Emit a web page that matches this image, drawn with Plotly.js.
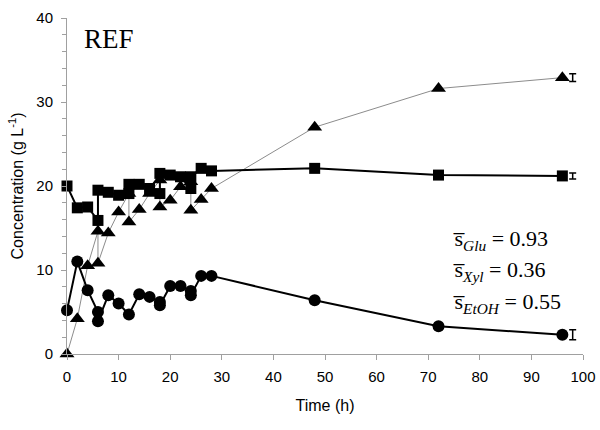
<!DOCTYPE html>
<html>
<head>
<meta charset="utf-8">
<script src="https://cdn.plot.ly/plotly-3.0.1.min.js"></script>
<style>html,body{margin:0;padding:0;background:#fff}#chart{width:600px;height:430px}</style>
</head>
<body>
<div id="chart"></div>
<script>
// Squares (xylose)
const timeSq = [0, 2, 4, 6, 6, 8, 10, 12, 12, 14, 16, 18, 18, 20, 22, 24, 24, 26, 28, 48, 72, 96];
const valSq  = [20.0, 17.4, 17.5, 15.9, 19.5, 19.25, 18.9, 19.1, 20.2, 20.2, 19.7, 19.1, 21.5, 21.3, 21.1, 19.7, 21.1, 22.1, 21.8, 22.1, 21.3, 21.2];
// Circles (glucose)
const timeCi = [0, 2, 4, 6, 6, 8, 10, 12, 14, 16, 18, 18, 20, 22, 24, 24, 26, 28, 48, 72, 96];
const valCi  = [5.2, 11.0, 7.6, 5.0, 3.9, 7.0, 6.0, 4.7, 7.1, 6.8, 6.2, 5.8, 8.1, 8.1, 7.5, 7.0, 9.3, 9.3, 6.4, 3.3, 2.3];
// Triangles (ethanol)
const timeTr = [0, 2, 4, 6, 6, 8, 10, 12, 12, 14, 16, 18, 18, 20, 22, 24, 24, 26, 28, 48, 72, 96];
const valTr  = [0, 4.2, 10.5, 14.6, 10.8, 14.4, 16.9, 19.1, 15.7, 17.2, 19.1, 20.7, 17.5, 18.3, 19.9, 20.5, 17.1, 18.4, 19.7, 27.0, 31.6, 32.9];
// error bars at end
const errX = [98];
const errTrY = [32.9], errTr = [0.45];
const errSqY = [21.2], errSq = [0.36];
const errCiY = [2.3], errCi = [0.6];
const statLabels = [
  's\u0305<sub><i>Glu</i></sub> = 0.93',
  's\u0305<sub><i>Xyl</i></sub> = 0.36',
  's\u0305<sub><i>EtOH</i></sub> = 0.55'
];
const statY = [13.6, 9.9, 6.1];

const traces = [
  {x: timeTr, y: valTr, mode: 'lines+markers', line: {color: '#8c8c8c', width: 1},
   marker: {symbol: 'triangle-up', size: 13, color: '#000'}, cliponaxis: false},
  {x: timeSq, y: valSq, mode: 'lines+markers', line: {color: '#000', width: 2},
   marker: {symbol: 'square', size: 11, color: '#000'}, cliponaxis: false},
  {x: timeCi, y: valCi, mode: 'lines+markers', line: {color: '#000', width: 2},
   marker: {symbol: 'circle', size: 12, color: '#000'}, cliponaxis: false},
  {x: errX, y: errTrY, mode: 'markers', marker: {opacity: 0},
   error_y: {type: 'data', array: errTr, width: 3.5, thickness: 1.5, color: '#000'}},
  {x: errX, y: errSqY, mode: 'markers', marker: {opacity: 0},
   error_y: {type: 'data', array: errSq, width: 3.5, thickness: 1.5, color: '#000'}},
  {x: errX, y: errCiY, mode: 'markers', marker: {opacity: 0},
   error_y: {type: 'data', array: errCi, width: 3.5, thickness: 1.5, color: '#000'}}
];

const annotations = statLabels.map((t, i) => ({
  x: 74.5, y: statY[i], xref: 'x', yref: 'y', text: t, showarrow: false,
  xanchor: 'left', yanchor: 'middle',
  font: {family: 'Liberation Serif, Times New Roman, serif', size: 22, color: '#000'}
}));
annotations.push({
  x: 3, y: 37.5, xref: 'x', yref: 'y', text: 'REF', showarrow: false,
  xanchor: 'left', yanchor: 'middle',
  font: {family: 'Liberation Serif, Times New Roman, serif', size: 27, color: '#000'}
});

const layout = {
  width: 600, height: 430,
  margin: {l: 67, r: 17, t: 18, b: 76},
  paper_bgcolor: '#fff', plot_bgcolor: '#fff',
  showlegend: false,
  font: {family: 'Liberation Sans, Arial, sans-serif', size: 15, color: '#000'},
  xaxis: {
    range: [0, 100], tick0: 0, dtick: 10, showgrid: false, zeroline: false,
    showline: true, linecolor: '#a0a0a0', linewidth: 1,
    ticks: 'outside', ticklen: 5, tickcolor: '#a0a0a0', ticklabelstandoff: 4,
    title: {text: 'Time (h)', font: {size: 16}, standoff: 15}
  },
  yaxis: {
    range: [0, 40], tick0: 0, dtick: 10, showgrid: false, zeroline: false,
    showline: true, linecolor: '#a0a0a0', linewidth: 1,
    ticks: 'outside', ticklen: 5, tickcolor: '#a0a0a0', ticklabelstandoff: 5,
    minor: {dtick: 2, ticks: 'outside', ticklen: 4, tickcolor: '#a0a0a0'},
    title: {text: 'Concentration (g L<sup>-1</sup>)', font: {size: 16}, standoff: 8}
  },
  annotations: annotations
};

Plotly.newPlot('chart', traces, layout, {displayModeBar: false, staticPlot: true});
</script>
</body>
</html>
